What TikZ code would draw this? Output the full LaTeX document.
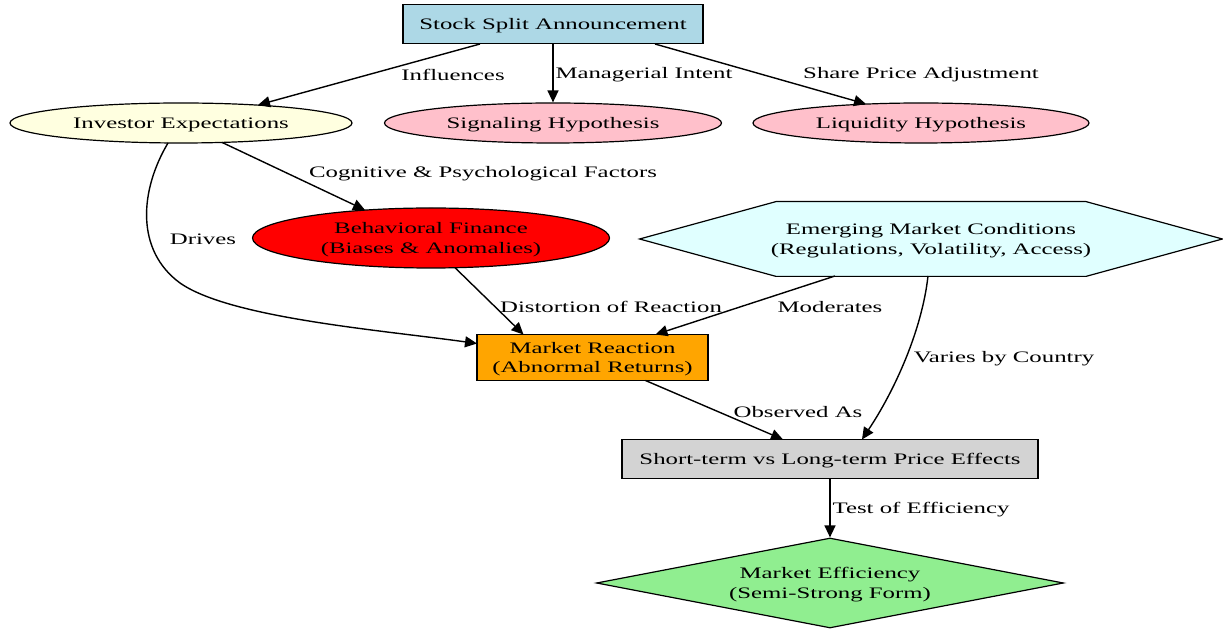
\documentclass[tikz,border=0pt]{standalone}
\usepackage{fontspec}
\setmainfont{Liberation Serif}
\usetikzlibrary{arrows.meta,shapes.geometric,calc}
\definecolor{gvblue}{HTML}{ADD8E6}
\definecolor{gvyellow}{HTML}{FFFFE0}
\definecolor{gvpink}{HTML}{FFC0CB}
\definecolor{gvred}{HTML}{FF0000}
\definecolor{gvcyan}{HTML}{E0FFFF}
\definecolor{gvorange}{HTML}{FFA500}
\definecolor{gvgray}{HTML}{D3D3D3}
\definecolor{gvgreen}{HTML}{90EE90}
\newcommand\stx[1]{\scalebox{1.55}[1]{\raisebox{-0.8pt}[\height][\depth]{#1}}}
\newcommand\twol[2]{\stx{\begin{tabular}{@{}c@{}}#1\\#2\end{tabular}}}
\begin{document}
\begin{tikzpicture}[x=0.5pt,y=-0.5pt,font=\fontsize{8}{9.6}\selectfont,
  base/.style={draw=black,line width=0.6pt,inner sep=0pt},
  boxnode/.style={base,rectangle},
  ellnode/.style={base,ellipse},
  conn/.style={-{Triangle[length=6pt,width=5.5pt]},line width=0.7pt},
  lbl/.style={inner sep=0pt}]
\useasboundingbox (0,0) rectangle (1223,630);

% nodes
\node[boxnode,fill=gvblue,minimum width=150pt,minimum height=19.5pt] (stock) at (553,24) {\stx{Stock Split Announcement}};
\node[ellnode,fill=gvyellow,minimum width=171pt,minimum height=20pt] (inv) at (181,123) {\stx{Investor Expectations}};
\node[ellnode,fill=gvpink,minimum width=168.5pt,minimum height=20pt] (sig) at (553,123) {\stx{Signaling Hypothesis}};
\node[ellnode,fill=gvpink,minimum width=168pt,minimum height=20pt] (liq) at (921,123) {\stx{Liquidity Hypothesis}};
\node[ellnode,fill=gvred,minimum width=178.5pt,minimum height=30pt] (beh) at (431,238) {\twol{Behavioral Finance}{(Biases \& Anomalies)}};
\node[rectangle,inner sep=0pt,minimum width=291pt,minimum height=37pt] (emc) at (931,239) {};
\fill[gvcyan,draw=black,line width=0.6pt] (emc.west) -- ($(emc.north)+(-155,0)$) -- ($(emc.north)+(155,0)$) -- (emc.east) -- ($(emc.south)+(155,0)$) -- ($(emc.south)+(-155,0)$) -- cycle;
\node at (emc.center) {\twol{Emerging Market Conditions}{(Regulations, Volatility, Access)}};
\node[boxnode,fill=gvorange,minimum width=115.5pt,minimum height=23pt] (mr) at (592.5,357.5) {\twol{Market Reaction}{(Abnormal Returns)}};
\node[boxnode,fill=gvgray,minimum width=208pt,minimum height=19.5pt] (st) at (830,459) {\stx{Short-term vs Long-term Price Effects}};
\node[base,diamond,aspect=5.19,minimum width=233.5pt,minimum height=45pt,fill=gvgreen] (me) at (830,583) {\twol{Market Efficiency}{(Semi-Strong Form)}};

% edges
\draw[conn] ($(stock.center)+(-73,20)$) -- ($(inv.center)+(77,-18)$);
\draw[conn] (stock.south) -- (sig.north);
\draw[conn] ($(stock.center)+(102,20)$) -- ($(liq.center)+(-55,-19)$);
\draw[conn] ($(inv.center)+(41,19.4)$) -- ($(beh.center)+(-66,-28)$);
\draw[conn] ($(inv.center)+(-13,20)$) .. controls (140,190) and (135,250) .. (180,283) .. controls (230,318) and (380,330) .. ($(mr.center)+(-115.5,-14)$);
\draw[conn] ($(beh.center)+(24,29.7)$) -- ($(mr.center)+(-69,-23)$);
\draw[conn] ($(emc.center)+(-96,37)$) -- ($(mr.center)+(63,-23)$);
\draw[conn] ($(emc.center)+(-3,37)$) .. controls ($(emc.center)+(-9,91)$) and ($(st.center)+(65,-69)$) .. ($(st.center)+(32,-19.5)$);
\draw[conn] ($(mr.center)+(53,23)$) -- ($(st.center)+(-47,-19.5)$);
\draw[conn] (st.south) -- (me.north);

% labels
\node[lbl] (l1) at (453,73) {\stx{Influences}};
\node[lbl] (l2) at (644,73) {\stx{Managerial Intent}};
\node[lbl] (l3) at (921,73) {\stx{Share Price Adjustment}};
\node[lbl] (l4) at (483,172) {\stx{Cognitive \& Psychological Factors}};
\node[lbl] (l5) at (203,238) {\stx{Drives}};
\node[lbl] (l6) at (611,305) {\stx{Distortion of Reaction}};
\node[lbl] (l7) at (830,305) {\stx{Moderates}};
\node[lbl] (l8) at (1004,357) {\stx{Varies by Country}};
\node[lbl] (l9) at (798,410) {\stx{Observed As}};
\node[lbl] (l10) at (921,508) {\stx{Test of Efficiency}};
\end{tikzpicture}
\end{document}
